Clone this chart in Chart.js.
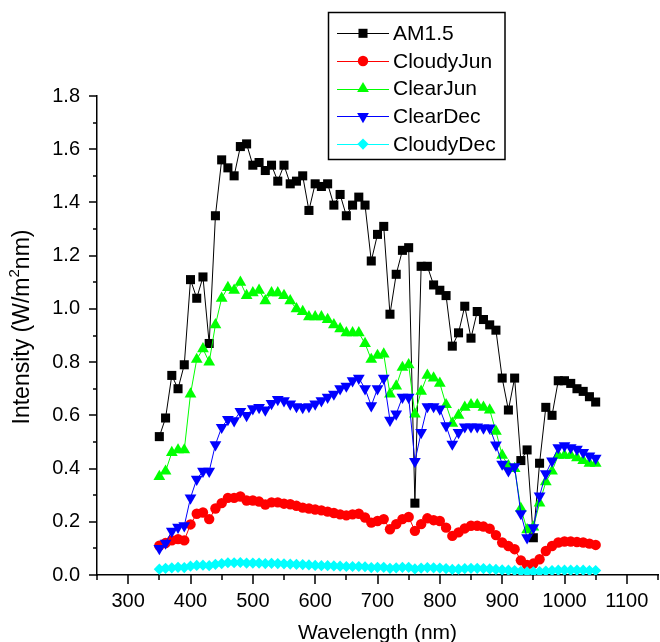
<!DOCTYPE html>
<html>
<head>
<meta charset="utf-8">
<script src="https://cdn.jsdelivr.net/npm/chart.js@4.4.0/dist/chart.umd.min.js"></script>
<style>
  html, body { margin: 0; padding: 0; background: #fff; overflow: hidden; }
  #wrap { width: 660px; height: 642px; overflow: hidden; }
</style>
</head>
<body>
<div id="wrap"><canvas id="spectra" width="672" height="642"></canvas></div>
<script>
// wavelength grid (nm)
var wavelength = [350, 360, 370, 380, 390, 400, 410, 420, 430, 440,
  450, 460, 470, 480, 490, 500, 510, 520, 530, 540,
  550, 560, 570, 580, 590, 600, 610, 620, 630, 640,
  650, 660, 670, 680, 690, 700, 710, 720, 730, 740,
  750, 760, 770, 780, 790, 800, 810, 820, 830, 840,
  850, 860, 870, 880, 890, 900, 910, 920, 930, 940,
  950, 960, 970, 980, 990, 1000, 1010, 1020, 1030, 1040, 1050];

// spectral intensity, W/m2nm
var am15 = [0.52, 0.59, 0.75, 0.70, 0.79, 1.11, 1.04, 1.12, 0.87, 1.35,
  1.56, 1.53, 1.50, 1.61, 1.62, 1.54, 1.55, 1.52, 1.54, 1.48,
  1.54, 1.47, 1.48, 1.50, 1.37, 1.47, 1.46, 1.47, 1.39, 1.43,
  1.35, 1.39, 1.42, 1.39, 1.18, 1.28, 1.31, 0.98, 1.13, 1.22,
  1.23, 0.27, 1.16, 1.16, 1.09, 1.07, 1.05, 0.86, 0.91, 1.01,
  0.89, 0.99, 0.96, 0.94, 0.92, 0.74, 0.62, 0.74, 0.43, 0.47,
  0.14, 0.42, 0.63, 0.60, 0.73, 0.73, 0.72, 0.70, 0.69, 0.67, 0.65];
var cloudyJun = [0.11, 0.12, 0.13, 0.135, 0.13, 0.19, 0.23, 0.235, 0.21, 0.25,
  0.27, 0.29, 0.29, 0.295, 0.28, 0.28, 0.276, 0.265, 0.273, 0.273,
  0.268, 0.266, 0.26, 0.253, 0.25, 0.246, 0.243, 0.238, 0.233, 0.228,
  0.224, 0.228, 0.23, 0.216, 0.197, 0.203, 0.21, 0.172, 0.191, 0.21,
  0.218, 0.166, 0.191, 0.213, 0.206, 0.203, 0.178, 0.147, 0.16, 0.175,
  0.185, 0.185, 0.182, 0.174, 0.15, 0.122, 0.109, 0.097, 0.055, 0.038,
  0.043, 0.059, 0.09, 0.109, 0.122, 0.126, 0.126, 0.124, 0.122, 0.118, 0.113];
var clearJun = [0.37, 0.39, 0.46, 0.47, 0.47, 0.68, 0.81, 0.85, 0.80, 0.94,
  1.04, 1.08, 1.07, 1.10, 1.05, 1.06, 1.07, 1.03, 1.06, 1.06,
  1.05, 1.03, 1.00, 0.99, 0.97, 0.97, 0.97, 0.96, 0.94, 0.925,
  0.91, 0.91, 0.91, 0.87, 0.81, 0.825, 0.83, 0.68, 0.71, 0.78,
  0.79, 0.605, 0.69, 0.75, 0.74, 0.72, 0.64, 0.57, 0.60, 0.63,
  0.64, 0.64, 0.63, 0.62, 0.54, 0.45, 0.41, 0.40, 0.25, 0.17,
  0.18, 0.27, 0.35, 0.39, 0.45, 0.45, 0.45, 0.44, 0.43, 0.42, 0.42];
var clearDec = [0.10, 0.12, 0.165, 0.18, 0.185, 0.29, 0.36, 0.39, 0.39, 0.49,
  0.555, 0.585, 0.58, 0.615, 0.60, 0.625, 0.63, 0.62, 0.645, 0.66,
  0.655, 0.643, 0.633, 0.63, 0.633, 0.643, 0.655, 0.668, 0.68, 0.70,
  0.71, 0.73, 0.74, 0.70, 0.636, 0.70, 0.74, 0.582, 0.605, 0.668,
  0.668, 0.427, 0.536, 0.633, 0.633, 0.624, 0.561, 0.492, 0.536, 0.557,
  0.557, 0.557, 0.553, 0.553, 0.489, 0.417, 0.392, 0.407, 0.231, 0.14,
  0.178, 0.297, 0.381, 0.429, 0.479, 0.486, 0.479, 0.473, 0.461, 0.448, 0.439];
var cloudyDec = [0.022, 0.025, 0.027, 0.029, 0.028, 0.033, 0.036, 0.037, 0.035, 0.040,
  0.043, 0.046, 0.046, 0.047, 0.045, 0.045, 0.045, 0.043, 0.044, 0.043,
  0.042, 0.041, 0.040, 0.039, 0.038, 0.036, 0.035, 0.035, 0.034, 0.033,
  0.032, 0.032, 0.032, 0.031, 0.028, 0.029, 0.029, 0.025, 0.027, 0.029,
  0.029, 0.023, 0.026, 0.028, 0.027, 0.026, 0.024, 0.021, 0.022, 0.024,
  0.025, 0.025, 0.024, 0.023, 0.021, 0.019, 0.018, 0.017, 0.014, 0.012,
  0.012, 0.013, 0.015, 0.017, 0.018, 0.018, 0.018, 0.018, 0.018, 0.017, 0.017];

var seriesNames = ["AM1.5", "CloudyJun", "ClearJun", "ClearDec", "CloudyDec"];
var seriesValues = [am15, cloudyJun, clearJun, clearDec, cloudyDec];
var seriesColors = ["#000000", "#ff0000", "#00ff00", "#0000ff", "#00ffff"];
var markerStyles = ["rect", "circle", "triangle", "triangle", "rectRot"];
var markerRotation = [0, 0, 0, 180, 0];
var markerRadius = [6.4, 5.2, 6.8, 6.8, 5.6];

var font = "'Liberation Sans', Arial, sans-serif";

function toPoints(vals) {
  return wavelength.map(function (w, i) { return { x: w, y: vals[i] }; });
}

var datasets = seriesNames.map(function (name, i) {
  return {
    label: name,
    data: toPoints(seriesValues[i]),
    borderColor: seriesColors[i],
    backgroundColor: seriesColors[i],
    borderWidth: 1,
    pointStyle: markerStyles[i],
    pointRotation: markerRotation[i],
    pointRadius: markerRadius[i],
    pointBorderWidth: 0,
    pointBackgroundColor: seriesColors[i],
    tension: 0,
    order: seriesNames.length - i
  };
});

// tick marks: major ones longer than minor ones
var axisTicks = {
  id: "axisTicks",
  afterDraw: function (chart) {
    var ctx = chart.ctx, xs = chart.scales.x, ys = chart.scales.y, a = chart.chartArea;
    ctx.save();
    ctx.strokeStyle = "#000";
    ctx.lineWidth = 1.5;
    ctx.beginPath();
    xs.ticks.forEach(function (t) {
      var px = Math.round(xs.getPixelForValue(t.value));
      var len = Math.round(t.value) % 100 === 0 ? 9 : 5;
      ctx.moveTo(px, a.bottom);
      ctx.lineTo(px, a.bottom + len);
    });
    ys.ticks.forEach(function (t) {
      var py = Math.round(ys.getPixelForValue(t.value));
      var len = Math.round(t.value * 10) % 2 === 0 ? 8 : 4;
      ctx.moveTo(a.left, py);
      ctx.lineTo(a.left - len, py);
    });
    ctx.stroke();
    ctx.restore();
  }
};

// rotated y title with a raised "2"
var yTitle = {
  id: "yTitle",
  afterDraw: function (chart) {
    var ctx = chart.ctx;
    var parts = [["Intensity (W/m", 23, 0], ["2", 15, -8], ["nm)", 23, 0]];
    ctx.save();
    ctx.fillStyle = "#000";
    ctx.textBaseline = "middle";
    ctx.textAlign = "left";
    var total = 0;
    parts.forEach(function (p) {
      ctx.font = p[1] + "px " + font;
      p.push(ctx.measureText(p[0]).width);
      total += p[3];
    });
    ctx.translate(23, 327);
    ctx.rotate(-Math.PI / 2);
    var x = -total / 2;
    parts.forEach(function (p) {
      ctx.font = p[1] + "px " + font;
      ctx.fillText(p[0], x, p[2]);
      x += p[3];
    });
    ctx.restore();
  }
};

// boxed legend with a line sample and marker for each series
var boxLegend = {
  id: "boxLegend",
  afterDraw: function (chart) {
    var ctx = chart.ctx;
    ctx.save();
    ctx.strokeStyle = "#000";
    ctx.lineWidth = 1.5;
    ctx.strokeRect(328.5, 12.5, 176.5, 147);
    ctx.font = "21px " + font;
    ctx.textBaseline = "middle";
    ctx.textAlign = "left";
    ctx.lineWidth = 1;
    chart.data.datasets.forEach(function (ds, i) {
      var cy = 33.3 + i * 27.7;
      ctx.strokeStyle = ds.borderColor;
      ctx.beginPath();
      ctx.moveTo(337, Math.round(cy) + 0.5);
      ctx.lineTo(389, Math.round(cy) + 0.5);
      ctx.stroke();
      ctx.fillStyle = ds.borderColor;
      Chart.helpers.drawPoint(ctx, {
        pointStyle: ds.pointStyle, rotation: ds.pointRotation,
        radius: ds.pointRadius, borderWidth: 0
      }, 363, cy);
      ctx.fillStyle = "#000";
      ctx.fillText(ds.label, 393, cy + 1);
    });
    ctx.restore();
  }
};

new Chart(document.getElementById("spectra"), {
  type: "line",
  data: { datasets: datasets },
  options: {
    responsive: false,
    devicePixelRatio: 1,
    animation: false,
    layout: { padding: { top: 96, right: 9, bottom: 0, left: 0 } },
    plugins: { legend: { display: false }, tooltip: { enabled: false } },
    scales: {
      x: {
        type: "linear",
        min: 250,
        max: 1150,
        afterFit: function (s) { s.height = 67; },
        grid: { display: false, drawTicks: false },
        border: { display: true, color: "#000", width: 1.5 },
        ticks: {
          stepSize: 50,
          includeBounds: false,
          autoSkip: false,
          maxRotation: 0,
          padding: 14,
          color: "#000",
          font: { family: font, size: 20 },
          callback: function (v) { return Math.round(v) % 100 === 0 ? String(v) : ""; }
        },
        title: {
          display: true,
          text: "Wavelength (nm)",
          color: "#000",
          font: { family: font, size: 21, lineHeight: 1 },
          padding: { top: 0, bottom: -2 }
        }
      },
      y: {
        min: 0,
        max: 1.8,
        afterFit: function (s) { s.width = 97; },
        grid: { display: false, drawTicks: false },
        border: { display: true, color: "#000", width: 1.5 },
        ticks: {
          stepSize: 0.1,
          autoSkip: false,
          padding: 17,
          color: "#000",
          font: { family: font, size: 20 },
          callback: function (v) { return Math.round(v * 10) % 2 === 0 ? v.toFixed(1) : ""; }
        }
      }
    }
  },
  plugins: [axisTicks, yTitle, boxLegend]
});
</script>
</body>
</html>
